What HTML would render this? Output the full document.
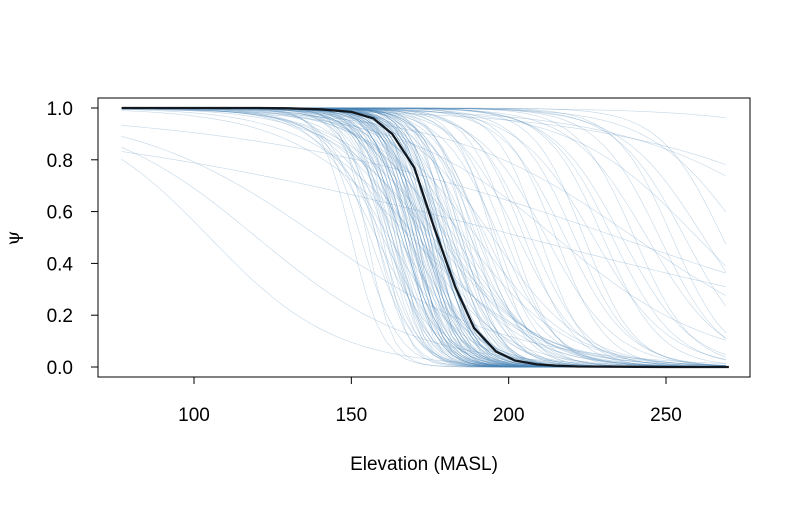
<!DOCTYPE html>
<html><head><meta charset="utf-8"><style>
body{margin:0;background:#fff;}
svg text{font-family:"Liberation Sans",sans-serif;font-size:19px;fill:#000;}
</style></head><body>
<svg id="chart" width="800" height="500" viewBox="0 0 800 500" xmlns="http://www.w3.org/2000/svg">
<g id="curves"></g>
<g id="meanline"></g>
<rect x="98" y="98" width="652" height="279" fill="none" stroke="#000" stroke-width="1"/>
<g id="axes"></g>
<text x="424" y="470" text-anchor="middle">Elevation (MASL)</text>
<text x="19" y="238" text-anchor="middle" transform="rotate(-90 19 238)" style="font-family:'DejaVu Serif',serif">ψ</text>
</svg>
<script>
const xTicks=[100,150,200,250];
const yTicks=[0,0.2,0.4,0.6,0.8,1.0];
const yTickLabels=["0.0","0.2","0.4","0.6","0.8","1.0"];
const elev=[77,90,100,110,120,130,140,150,157,163,170,176,183,189,196,202,209,215,222,235,250,270];
const meanPsi=[1,1,1,1,1,0.999,0.995,0.985,0.96,0.9,0.77,0.55,0.31,0.15,0.06,0.025,0.01,0.005,0.002,0.001,0,0];
// per-draw logistic midpoints (MASL) and scales
const drawMid=[150,153,155,156,158,159,160,161,162,163,163,164,165,165,166,167,167,168,168,169,169,170,170,171,171,172,172,173,173,174,174,175,175,176,176,177,177,178,178,179,179,180,180,181,182,182,183,184,185,186,187,188,189,190,191,193,195,197,199,201,203,205,207,210,212,215,218,221,224,227,230,233,236,240,244,248,252,256,262,268,160,165,170,175,180,185,190,195,172,168,178,183,162,158,174,176,171,169,181,186,140,120,105,215,240,300,320,350,260,275,235,205,
164,166,168,170,172,174,176,178,165,167,169,171,173,175,177,179,163,166,169,172,175,178,181,184,170,173,176,168,171,174,167,177,180,162,158,161,185,188,192,196];
const drawScale=[5,6,4,7,5,6,4,5,6,7,5,4,6,5,7,5,6,4,8,5,6,5,7,4,6,5,8,5,6,4,7,5,6,5,8,4,6,5,7,5,6,4,9,5,7,6,5,8,6,7,5,9,6,8,7,10,6,9,8,7,10,8,9,7,11,8,10,9,8,12,9,10,11,9,12,10,9,11,13,10,10,12,14,11,13,12,15,14,9,11,16,13,12,10,15,17,18,20,14,16,30,25,20,25,30,30,40,25,20,15,60,80,
5,6,5,4,6,5,7,6,4,5,6,5,7,4,6,5,6,7,5,6,4,5,7,6,5,6,5,7,4,6,5,6,7,5,6,7,6,7,8,7];
const X=v=>194+(v-100)*472/150;
const Y=v=>367-v*259;
const ns="http://www.w3.org/2000/svg";
const cg=document.getElementById('curves');
for(let i=0;i<drawMid.length;i++){
  let d="";
  for(let e=77;e<=270;e+=3){const p=1/(1+Math.exp((e-drawMid[i])/drawScale[i]));d+=(d?"L":"M")+X(e).toFixed(1)+","+Y(p).toFixed(1);}
  const p=document.createElementNS(ns,'path');
  p.setAttribute('d',d);p.setAttribute('fill','none');p.setAttribute('stroke','rgba(70,130,180,0.32)');p.setAttribute('stroke-width','0.6');
  
  
  cg.appendChild(p);
}
const m=document.createElementNS(ns,'path');
m.setAttribute('d',elev.map((e,i)=>(i?"L":"M")+X(e).toFixed(1)+","+Y(meanPsi[i]).toFixed(1)).join(''));
m.setAttribute('fill','none');m.setAttribute('stroke','#111820');m.setAttribute('stroke-width','2.3');


document.getElementById('meanline').appendChild(m);
const ax=document.getElementById('axes');
function add(tag,attrs,txt){const el=document.createElementNS(ns,tag);for(const k in attrs)el.setAttribute(k,attrs[k]);if(txt)el.textContent=txt;ax.appendChild(el);return el;}
xTicks.forEach(t=>{
  const l=add('line',{x1:X(t),x2:X(t),y1:377,y2:384,stroke:'#000'});
  
  
  const tx=add('text',{x:X(t),y:421,'text-anchor':'middle'},String(t));
  
  
});
yTicks.forEach((t,i)=>{
  const l=add('line',{x1:91,x2:98,y1:Y(t),y2:Y(t),stroke:'#000'});
  
  
  const tx=add('text',{x:73,y:Y(t)+7,'text-anchor':'end'},yTickLabels[i]);
  
  
});
</script>
</body></html>
